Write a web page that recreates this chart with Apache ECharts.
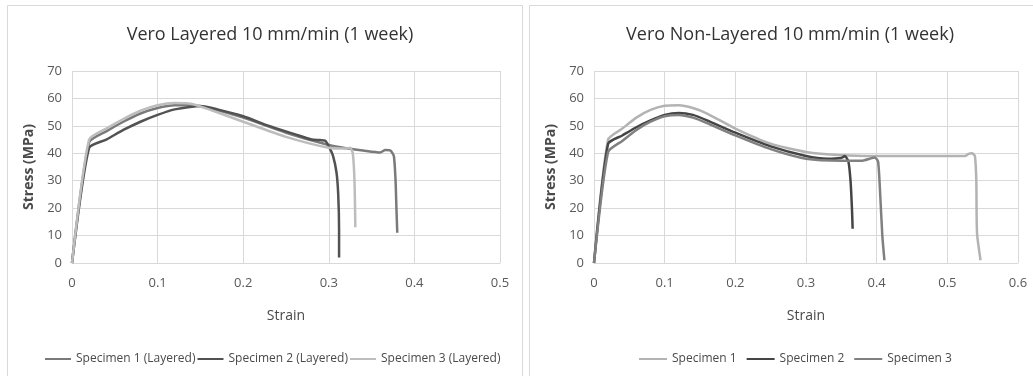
<!DOCTYPE html>
<html>
<head>
<meta charset="utf-8">
<script src="https://cdn.jsdelivr.net/npm/echarts@6/dist/echarts.min.js"></script>
<style>
  html, body { margin: 0; padding: 0; background: #fff; }
  #main { width: 1033px; height: 376px; }
</style>
</head>
<body>
<div id="main"></div>
<script>
// strain / stress pairs
const layered1 = [[0,0],[0.02,44],[0.04,48],[0.06,51.5],[0.08,54.5],[0.1,56.5],[0.12,57.5],[0.14,57.5],[0.16,56.5],[0.2,53],[0.25,47.5],[0.3,43],[0.32,41.8],[0.34,41],[0.36,40.3],[0.366,41.2],[0.372,41],[0.376,39],[0.378,30],[0.379,20],[0.38,11]];
const layered2 = [[0,0],[0.02,42],[0.04,45],[0.06,48.5],[0.08,51.5],[0.1,54],[0.12,56],[0.14,57],[0.15,57.2],[0.17,56],[0.2,53.5],[0.23,50],[0.26,47],[0.28,45],[0.29,44.8],[0.296,44.6],[0.3,42.5],[0.305,39],[0.309,33],[0.311,25],[0.312,12],[0.312,2]];
const layered3 = [[0,0],[0.02,45],[0.04,49],[0.06,52.5],[0.08,55.5],[0.1,57.5],[0.12,58.3],[0.14,58],[0.16,56],[0.2,51.5],[0.25,46],[0.3,42],[0.32,41.7],[0.325,42],[0.328,40],[0.33,30],[0.331,13]];

const nonLayered1 = [[0,0],[0.02,45],[0.04,49],[0.06,53],[0.08,55.8],[0.1,57.3],[0.12,57.5],[0.14,56.5],[0.16,54.5],[0.2,49],[0.25,43.5],[0.3,40.5],[0.35,39.3],[0.4,39],[0.45,39],[0.5,39],[0.525,39],[0.53,39.8],[0.535,40],[0.539,39],[0.541,30],[0.542,11],[0.547,1]];
const nonLayered2 = [[0,0],[0.02,43.5],[0.04,46.5],[0.06,49.5],[0.08,52],[0.1,54],[0.12,54.7],[0.14,54],[0.16,52],[0.2,47.5],[0.25,42.5],[0.3,39],[0.33,38],[0.35,38.3],[0.355,39],[0.36,37],[0.363,30],[0.365,20],[0.366,12.5]];
const nonLayered3 = [[0,0],[0.02,40.5],[0.04,44.5],[0.06,48.5],[0.08,51.5],[0.1,53.5],[0.12,54],[0.14,53],[0.16,51],[0.2,46.5],[0.25,41.5],[0.3,38],[0.35,37.3],[0.38,37.3],[0.39,38],[0.397,38.5],[0.402,37],[0.405,25],[0.408,10],[0.411,1]];

const namesL = ['Specimen 1 (Layered)', 'Specimen 2 (Layered)', 'Specimen 3 (Layered)'];
const namesN = ['Specimen 1', 'Specimen 2', 'Specimen 3'];
const titles = ['Vero Layered 10 mm/min (1 week)', 'Vero Non-Layered 10 mm/min (1 week)'];

const FONT = '"Open Sans", sans-serif';
const gridColor = '#d9d9d9';
const labelColor = '#595959';

function xAxis(idx, max) {
  return {
    type: 'value', gridIndex: idx, min: 0, max: max, interval: 0.1,
    name: 'Strain', nameLocation: 'middle', nameGap: 46,
    nameTextStyle: { color: '#4a4a4a', fontSize: 14, fontFamily: FONT },
    axisLine: { lineStyle: { color: gridColor } },
    axisTick: { show: false },
    axisLabel: { color: labelColor, fontSize: 13, fontFamily: FONT, margin: 14,
      formatter: v => String(+v.toFixed(1)) },
    splitLine: { lineStyle: { color: gridColor } }
  };
}
function yAxis(idx) {
  return {
    type: 'value', gridIndex: idx, min: 0, max: 70, interval: 10,
    name: 'Stress (MPa)', nameLocation: 'middle', nameGap: 36, nameRotate: 90,
    nameTextStyle: { color: '#4a4a4a', fontSize: 14, fontWeight: 'bold', fontFamily: FONT },
    axisLine: { show: false }, axisTick: { show: false },
    axisLabel: { color: labelColor, fontSize: 13, fontFamily: FONT, margin: 10 },
    splitLine: { lineStyle: { color: gridColor } }
  };
}
function line(name, data, idx, color) {
  return {
    name: name, type: 'line', xAxisIndex: idx, yAxisIndex: idx, data: data,
    showSymbol: false, smooth: 0.2, lineStyle: { width: 2.5, color: color },
    itemStyle: { color: color }
  };
}

const chart = echarts.init(document.getElementById('main'));
chart.setOption({
  backgroundColor: '#fff',
  animation: false,
  graphic: [
    { type: 'rect', shape: { x: 7.5, y: 5.5, width: 515, height: 400 }, style: { fill: 'none', stroke: '#d9d9d9', lineWidth: 1 } },
    { type: 'rect', shape: { x: 529.5, y: 5.5, width: 520, height: 400 }, style: { fill: 'none', stroke: '#d9d9d9', lineWidth: 1 } }
  ],
  title: [
    { text: titles[0], left: 265, top: 21, textAlign: 'center',
      textStyle: { color: '#333', fontSize: 18, fontWeight: 'normal', fontFamily: FONT } },
    { text: titles[1], left: 785, top: 21, textAlign: 'center',
      textStyle: { color: '#333', fontSize: 18, fontWeight: 'normal', fontFamily: FONT } }
  ],
  legend: [
    { data: namesL, left: 40, top: 348, itemWidth: 26, itemHeight: 2, itemGap: 2, icon: 'rect',
      textStyle: { color: '#4a4a4a', fontSize: 12, fontFamily: FONT } },
    { data: namesN, left: 634, top: 348, itemWidth: 28, itemHeight: 2, itemGap: 10, icon: 'rect',
      textStyle: { color: '#4a4a4a', fontSize: 12, fontFamily: FONT } }
  ],
  grid: [
    { left: 72, right: 533, top: 71, bottom: 113 },
    { left: 594, right: 15, top: 71, bottom: 113 }
  ],
  xAxis: [xAxis(0, 0.5), xAxis(1, 0.6)],
  yAxis: [yAxis(0), yAxis(1)],
  series: [
    line(namesL[0], layered1, 0, '#7a7a7a'),
    line(namesL[1], layered2, 0, '#525252'),
    line(namesL[2], layered3, 0, '#bdbdbd'),
    line(namesN[0], nonLayered1, 1, '#b3b3b3'),
    line(namesN[1], nonLayered2, 1, '#454545'),
    line(namesN[2], nonLayered3, 1, '#808080')
  ]
});
</script>
</body>
</html>
